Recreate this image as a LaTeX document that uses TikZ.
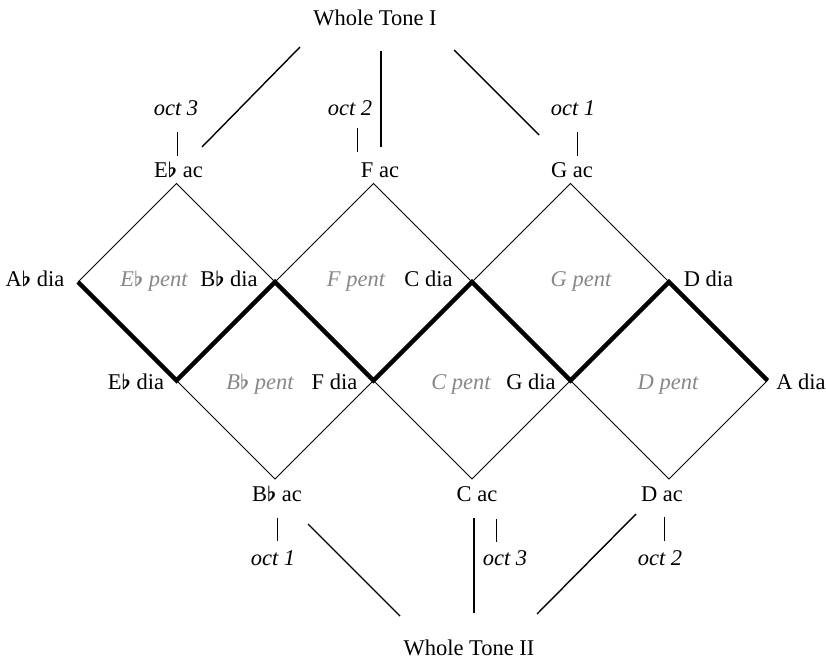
\documentclass[tikz,border=0pt]{standalone}
\usepackage{bm}
\usepackage{fontspec}
\setmainfont{Liberation Serif}
\definecolor{pentgray}{RGB}{135,135,135}
\newcommand\flt{\ensuremath{\bm{\flat}}}
\begin{document}
\begin{tikzpicture}[x=1pt,y=-1pt,
  lbl/.style={inner sep=0pt, anchor=base, font=\fontsize{22.5}{27}\selectfont},
  itl/.style={inner sep=0pt, anchor=base, font=\fontsize{22.5}{27}\selectfont\itshape},
  pent/.style={itl, text=pentgray},
  thin/.style={line width=1pt},
  zig/.style={line width=4.5pt, line join=miter},
  wt/.style={line width=1.4pt},
  wtv/.style={line width=2.2pt},
  tick/.style={line width=1pt}]
\useasboundingbox (0,0) rectangle (826,660);

% lattice vertices
\coordinate (a1) at (176.5,183.5);
\coordinate (a3) at (373.5,183.5);
\coordinate (a5) at (570.5,183.5);
\coordinate (b0) at (78,282);
\coordinate (b2) at (275,282);
\coordinate (b4) at (472,282);
\coordinate (b6) at (669,282);
\coordinate (c1) at (176.5,380.5);
\coordinate (c3) at (373.5,380.5);
\coordinate (c5) at (570.5,380.5);
\coordinate (c7) at (767.5,380.5);
\coordinate (d2) at (275,479);
\coordinate (d4) at (472,479);
\coordinate (d6) at (669,479);

% diamonds
\draw[thin] (a1) -- (b2) -- (c1) -- (b0) -- cycle;
\draw[thin] (a3) -- (b4) -- (c3) -- (b2) -- cycle;
\draw[thin] (a5) -- (b6) -- (c5) -- (b4) -- cycle;
\draw[thin] (b2) -- (c3) -- (d2) -- (c1) -- cycle;
\draw[thin] (b4) -- (c5) -- (d4) -- (c3) -- cycle;
\draw[thin] (b6) -- (c7) -- (d6) -- (c5) -- cycle;
% thick zigzag
\draw[zig] (b0) -- (c1) -- (b2) -- (c3) -- (b4) -- (c5) -- (b6) -- (c7);

% text labels
\node[lbl] (wt1) at (375,26) {Whole Tone I};
\node[lbl] (wt2) at (469,655) {Whole Tone II};

\node[itl] (o3t) at (176,116) {oct 3};
\node[itl] (o2t) at (350,116) {oct 2};
\node[itl] (o1t) at (573,116) {oct 1};
\node[lbl] (ebac) at (178.5,178) {E\flt{} ac};
\node[lbl] (fac) at (380,178) {F ac};
\node[lbl] (gac) at (572,178) {G ac};

\node[lbl] (abdia) at (35,286) {A\flt{} dia};
\node[pent] (ebpent) at (154,286) {E\flt{} pent};
\node[lbl] (bbdia) at (229,286) {B\flt{} dia};
\node[pent] (fpent) at (356,286) {F pent};
\node[lbl] (cdia) at (428.5,286) {C dia};
\node[pent] (gpent) at (581,286) {G pent};
\node[lbl] (ddia) at (708.5,286) {D dia};

\node[lbl] (ebdia) at (136,389) {E\flt{} dia};
\node[pent] (bbpent) at (260,389) {B\flt{} pent};
\node[lbl] (fdia) at (334.5,389) {F dia};
\node[pent] (cpent) at (461,389) {C pent};
\node[lbl] (gdia) at (531,389) {G dia};
\node[pent] (dpent) at (668,389) {D pent};
\node[lbl] (adia) at (801,389) {A dia};

\node[lbl] (bbac) at (277,501) {B\flt{} ac};
\node[lbl] (cac) at (477,501) {C ac};
\node[lbl] (dac) at (662,501) {D ac};
\node[itl] (o1b) at (273,565) {oct 1};
\node[itl] (o3b) at (505,565) {oct 3};
\node[itl] (o2b) at (660,565) {oct 2};

% whole tone I connectors
\coordinate (w1l) at (300,47);   \coordinate (w1le) at (202,147);
\coordinate (w1m) at (381,51);   \coordinate (w1me) at (381,147);
\coordinate (w1r) at (454,50);   \coordinate (w1re) at (539,135);
\draw[wt] (w1l) -- (w1le);
\draw[wtv] (w1m) -- (w1me);
\draw[wt] (w1r) -- (w1re);
% whole tone II connectors
\coordinate (w2l) at (400,616);  \coordinate (w2le) at (308,524);
\coordinate (w2m) at (474,613);  \coordinate (w2me) at (474,518);
\coordinate (w2r) at (537,614);  \coordinate (w2re) at (636,514);
\draw[wt] (w2l) -- (w2le);
\draw[wtv] (w2m) -- (w2me);
\draw[wt] (w2r) -- (w2re);

% octave ticks
\coordinate (t1a) at (177,132); \coordinate (t1b) at (177,156);
\coordinate (t2a) at (357,128); \coordinate (t2b) at (357,152);
\coordinate (t3a) at (577,132); \coordinate (t3b) at (577,156);
\coordinate (t4a) at (277,518); \coordinate (t4b) at (277,541);
\coordinate (t5a) at (496,519); \coordinate (t5b) at (496,542);
\coordinate (t6a) at (664,517); \coordinate (t6b) at (664,541);
\draw[tick] (t1a) -- (t1b);
\draw[tick] (t2a) -- (t2b);
\draw[tick] (t3a) -- (t3b);
\draw[tick] (t4a) -- (t4b);
\draw[tick] (t5a) -- (t5b);
\draw[tick] (t6a) -- (t6b);
\end{tikzpicture}
\end{document}
